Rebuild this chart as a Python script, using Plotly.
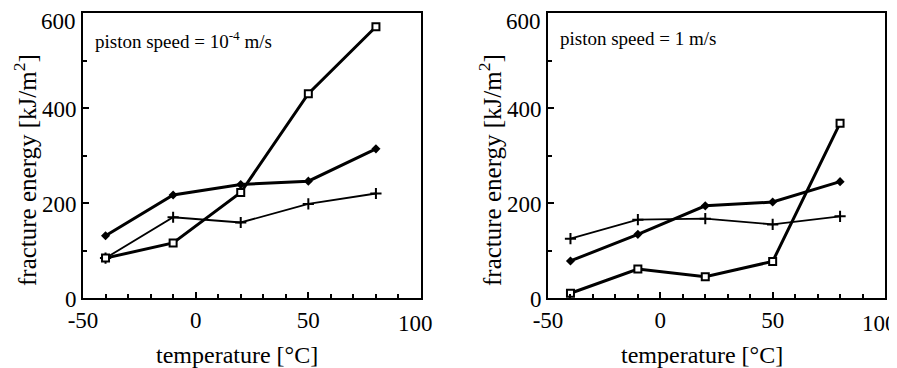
import plotly.graph_objects as go
from plotly.subplots import make_subplots

temps = [-40, -10, 20, 50, 80]

# left panel: piston speed 1e-4 m/s
slow_square = [84, 116, 222, 430, 571]
slow_diamond = [131, 217, 239, 246, 314]
slow_plus = [84, 170, 159, 198, 220]

# right panel: piston speed 1 m/s
fast_square = [10, 61, 45, 77, 368]
fast_diamond = [78, 134, 194, 202, 245]
fast_plus = [125, 165, 167, 155, 172]

panel_labels = ["piston speed = 10<sup>-4</sup> m/s", "piston speed = 1 m/s"]
x_title = "temperature [°C]"
y_title = "fracture energy [kJ/m<sup>2</sup>]"
x_ticks = [-50, 0, 50, 100]
x_ticktext = ["-50", "0", "50", ""]
last_x_label = "100"
y_ticks = [0, 200, 400, 600]
y_ticktext = ["0", "200", "400", ""]
top_y_label = "600"

FONT = "Liberation Serif"

fig = make_subplots(rows=1, cols=2)

def add_panel(col, sq, di, pl):
    fig.add_trace(go.Scatter(x=temps, y=pl, mode="lines+markers",
                             line=dict(color="black", width=1.8),
                             marker=dict(symbol="cross-thin", size=8, line=dict(color="black", width=2)),
                             showlegend=False), row=1, col=col)
    fig.add_trace(go.Scatter(x=temps, y=di, mode="lines+markers",
                             line=dict(color="black", width=3),
                             marker=dict(symbol="diamond", size=7, color="black"),
                             showlegend=False), row=1, col=col)
    fig.add_trace(go.Scatter(x=temps, y=sq, mode="lines+markers",
                             line=dict(color="black", width=3),
                             marker=dict(symbol="square", size=7, color="white",
                                         line=dict(color="black", width=2)),
                             showlegend=False), row=1, col=col)

add_panel(1, slow_square, slow_diamond, slow_plus)
add_panel(2, fast_square, fast_diamond, fast_plus)

# page has an 8px body margin, so figure coordinates are page coordinates minus 8
W, H = 889, 360
xd1 = [75 / W, 413 / W]
xd2 = [540 / W, 877 / W]
yd = [(H - 290) / H, (H - 5) / H]

axis_common = dict(showline=True, linecolor="black", linewidth=2, mirror=True,
                   showgrid=False, zeroline=False, ticks="inside", ticklen=6,
                   tickwidth=2, tickcolor="black", automargin=False,
                   ticklabeloverflow="allow",
                   tickfont=dict(family=FONT, size=23, color="black"))

title_pos = [
    dict(xt=229, yt=347, xy=17, yy=162),
    dict(xt=694, yt=347, xy=482, yy=162),
]

for i, (xd, lab) in enumerate([(xd1, panel_labels[0]), (xd2, panel_labels[1])], start=1):
    xname = "xaxis" if i == 1 else "xaxis2"
    yname = "yaxis" if i == 1 else "yaxis2"
    xr = "x" if i == 1 else "x2"
    yr = "y" if i == 1 else "y2"
    fig.layout[xname].update(domain=xd, range=[-50, 100], tickvals=x_ticks, ticktext=x_ticktext,
                             minor=dict(dtick=10, ticks="inside", ticklen=4, tickcolor="black", tickwidth=1.5),
                             **axis_common)
    fig.layout[yname].update(domain=yd, range=[0, 600], tickvals=y_ticks, ticktext=y_ticktext,
                             ticklabelshift=1,
                             minor=dict(dtick=100, ticks="inside", ticklen=4, tickcolor="black", tickwidth=1.5),
                             **axis_common)
    # last x tick label, nudged left as in the original
    fig.add_annotation(text=last_x_label, xref=xr, yref=yr + " domain",
                       x=x_ticks[-1], y=0, xanchor="center", yanchor="middle",
                       xshift=-6, yshift=-25, showarrow=False,
                       font=dict(family=FONT, size=23, color="black"))
    # top y tick label, sitting a little below the frame top as in the original
    fig.add_annotation(text=top_y_label, xref=xr + " domain", yref=yr,
                       x=0, y=y_ticks[-1], xanchor="right", yanchor="middle",
                       xshift=-5, yshift=-9, showarrow=False,
                       font=dict(family=FONT, size=23, color="black"))
    fig.add_annotation(text=lab, xref=xr + " domain", yref=yr + " domain",
                       x=0.03, y=0.955, xanchor="left", yanchor="top", showarrow=False,
                       font=dict(family=FONT, size=19, color="black"))
    tp = title_pos[i - 1]
    fig.add_annotation(text=x_title, xref="paper", yref="paper",
                       x=tp["xt"] / W, y=(H - tp["yt"]) / H, xanchor="center", yanchor="middle",
                       showarrow=False, font=dict(family=FONT, size=24, color="black"))
    fig.add_annotation(text=y_title, xref="paper", yref="paper", textangle=-90,
                       x=tp["xy"] / W, y=(H - tp["yy"]) / H, xanchor="center", yanchor="middle",
                       showarrow=False, font=dict(family=FONT, size=25, color="black"))

fig.update_layout(width=W, height=H, margin=dict(l=0, r=0, t=0, b=0),
                  paper_bgcolor="white", plot_bgcolor="white")

fig.write_html("out.html")
